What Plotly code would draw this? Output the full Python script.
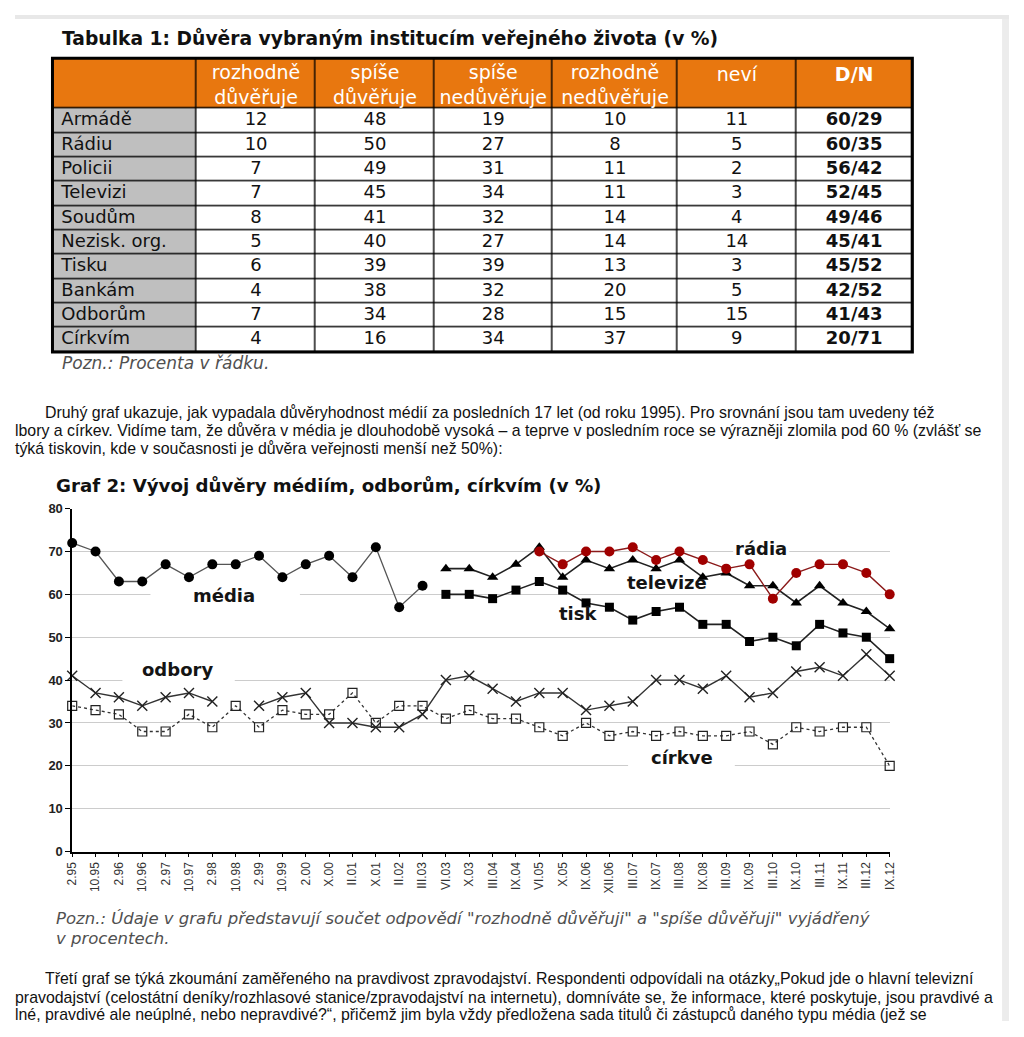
import numpy as np
import plotly.graph_objects as go

# The page keeps the browser's default 8 px body margin, so the figure is
# 16 px smaller than the window and every position below is given in window
# pixels and shifted by that margin.
WIN_W, WIN_H = 1024, 1037
MARGIN = 8
W, H = WIN_W - 2 * MARGIN, WIN_H - 2 * MARGIN

# ---------------- Table data ----------------
row_labels = ["Armádě", "Rádiu", "Policii", "Televizi", "Soudům", "Nezisk. org.",
              "Tisku", "Bankám", "Odborům", "Církvím"]
col_headers = ["rozhodně<br>důvěřuje", "spíše<br>důvěřuje", "spíše<br>nedůvěřuje",
               "rozhodně<br>nedůvěřuje", "neví", "<b>D/N</b>"]
rozhodne_duveruje = [12, 10, 7, 7, 8, 5, 6, 4, 7, 4]
spise_duveruje = [48, 50, 49, 45, 41, 40, 39, 38, 34, 16]
spise_neduveruje = [19, 27, 31, 34, 32, 27, 39, 32, 28, 34]
rozhodne_neduveruje = [10, 8, 11, 11, 14, 14, 13, 20, 15, 37]
nevi = [11, 5, 2, 3, 4, 14, 3, 5, 15, 9]
dn = ["60/29", "60/35", "56/42", "52/45", "49/46", "45/41", "45/52", "42/52", "41/43", "20/71"]

# ---------------- Chart data ----------------
periods = ["2.95", "10.95", "2.96", "10.96", "2.97", "10.97", "2.98", "10.98", "2.99", "10.99",
           "2.00", "X.00", "II.01", "X.01", "II.02", "III.03", "VI.03", "X.03", "III.04", "IX.04",
           "VI.05", "X.05", "IX.06", "XII.06", "III.07", "IX.07", "III.08", "IX.08", "III.09",
           "IX.09", "III.10", "IX.10", "III.11", "IX.11", "III.12", "IX.12"]
N = None
media = [72, 70, 63, 63, 67, 64, 67, 67, 69, 64, 67, 69, 64, 71, 57, 62] + [N] * 20
televize = [N] * 16 + [66, 66, 64, 67, 71, 64, 68, 66, 68, 66, 68, 64, 65, 62, 62, 58, 62, 58, 56, 52]
tisk = [N] * 16 + [60, 60, 59, 61, 63, 61, 58, 57, 54, 56, 57, 53, 53, 49, 50, 48, 53, 51, 50, 45]
radia = [N] * 20 + [70, 67, 70, 70, 71, 68, 70, 68, 66, 67, 59, 65, 67, 67, 65, 60]
odbory = [41, 37, 36, 34, 36, 37, 35, N, 34, 36, 37, 30, 30, 29, 29, 32, 40, 41, 38, 35,
          37, 37, 33, 34, 35, 40, 40, 38, 41, 36, 37, 42, 43, 41, 46, 41]
cirkve = [34, 33, 32, 28, 28, 32, 29, 34, 29, 33, 32, 32, 37, 30, 34, 34, 31, 33, 31, 31,
          29, 27, 30, 27, 28, 27, 28, 27, 27, 28, 25, 29, 28, 29, 29, 20]

ORANGE = "#E8770F"
GRAY = "#BFBFBF"
VERDANA = "DejaVu Sans"
ARIAL = "Liberation Sans"


def px(x):
    return (x - MARGIN) / W


def py(y):
    return 1 - (y - MARGIN) / H


fig = go.Figure()

# ---------------- Table (heatmap cells on its own axes) ----------------
col_widths = [146, 121, 120, 120, 127, 120, 118]
x_edges = np.concatenate([[0], np.cumsum(col_widths)])
x_centers = (x_edges[:-1] + x_edges[1:]) / 2
hdr_units = 51 / 24.7
n_rows = len(row_labels)
y_edges = [-hdr_units] + list(range(0, n_rows + 1))
row_centers = [i + 0.5 for i in range(n_rows)]

# colour codes: 0 white, 1 gray, 2 orange
z = [[2] * 7] + [[1] + [0] * 6 for _ in range(n_rows)]

fig.add_trace(go.Heatmap(z=[[1]], x=[0, x_edges[-1]], y=[-hdr_units, n_rows],
                         colorscale=[[0, "black"], [1, "black"]], showscale=False,
                         hoverinfo="skip", xaxis="x3", yaxis="y3"))
fig.add_trace(go.Heatmap(z=z, x=x_edges, y=y_edges, zmin=0, zmax=2,
                         colorscale=[[0, "white"], [0.5, GRAY], [1, ORANGE]], showscale=False,
                         xgap=1.4, ygap=1.4, hoverinfo="skip", xaxis="x3", yaxis="y3"))

# row labels
fig.add_trace(go.Scatter(x=[x_edges[0] + 9] * n_rows, y=row_centers, text=row_labels,
                         mode="text", textposition="middle right", showlegend=False, hoverinfo="skip",
                         textfont=dict(family=VERDANA, size=18, color="#111111"),
                         xaxis="x3", yaxis="y3"))
# numeric cells
value_cols = [rozhodne_duveruje, spise_duveruje, spise_neduveruje, rozhodne_neduveruje, nevi,
              ["<b>%s</b>" % d for d in dn]]
cx, cy, ct = [], [], []
for j, col in enumerate(value_cols):
    for i, v in enumerate(col):
        cx.append(x_centers[j + 1])
        cy.append(row_centers[i])
        ct.append(str(v))
fig.add_trace(go.Scatter(x=cx, y=cy, text=ct, mode="text", textposition="middle center",
                         showlegend=False, hoverinfo="skip",
                         textfont=dict(family=VERDANA, size=18, color="#111111"),
                         xaxis="x3", yaxis="y3"))
# header texts (two-line ones centred in the row, single-line ones on the first line)
hy = [(-0.888 if "<br>" in h else -1.33) for h in col_headers]
fig.add_trace(go.Scatter(x=list(x_centers[1:]), y=hy, text=col_headers, mode="text",
                         textposition="middle center", showlegend=False, hoverinfo="skip",
                         textfont=dict(family=VERDANA, size=19, color="white"),
                         xaxis="x3", yaxis="y3"))

# ---------------- Line chart ----------------
line_common = dict(mode="lines+markers", cliponaxis=False, showlegend=False, hoverinfo="skip")
fig.add_trace(go.Scatter(x=periods, y=cirkve, line=dict(color="#333333", width=1.3, dash="3px,3px"),
                         marker=dict(symbol="square-open", size=9, color="#222222", line=dict(width=1.2)),
                         **line_common))
fig.add_trace(go.Scatter(x=periods, y=odbory, line=dict(color="#333333", width=1.4),
                         marker=dict(symbol="x-thin", size=10, color="#222222",
                                     line=dict(width=1.4, color="#222222")),
                         **line_common))
fig.add_trace(go.Scatter(x=periods, y=media, line=dict(color="#555555", width=1.3),
                         marker=dict(symbol="circle", size=10, color="black"), **line_common))
fig.add_trace(go.Scatter(x=periods, y=tisk, line=dict(color="#222222", width=1.6),
                         marker=dict(symbol="square", size=9, color="black"), **line_common))
fig.add_trace(go.Scatter(x=periods, y=televize, line=dict(color="#222222", width=1.6),
                         marker=dict(symbol="triangle-up", size=10, color="black"), **line_common))
fig.add_trace(go.Scatter(x=periods, y=radia, line=dict(color="#8B1A1A", width=1.4),
                         marker=dict(symbol="circle", size=10, color="#A00000"), **line_common))

# label white backgrounds (gaps in gridlines)
for (x0, x1, y0, y1) in [(3.35, 9.75, 58.8, 61.2), (2.15, 6.96, 38.8, 41.2),
                         (23.8, 28.37, 18.8, 21.2), (28.3, 30.7, 68.8, 71.2)]:
    fig.add_shape(type="rect", xref="x", yref="y", x0=x0, x1=x1, y0=y0, y1=y1,
                  fillcolor="white", line=dict(width=0), layer="between")

series_labels = [("média", 6.5, 59.8), ("odbory", 4.52, 42.5), ("tisk", 21.66, 55.6),
                 ("televize", 25.46, 62.7), ("rádia", 29.47, 70.8), ("církve", 26.09, 22.0)]
for txt, lx, ly in series_labels:
    fig.add_annotation(x=lx, y=ly, xref="x", yref="y", text="<b>%s</b>" % txt, showarrow=False,
                       font=dict(family=VERDANA, size=18, color="#141414"))


# ---------------- Texts ----------------
def text(x, y, s, size, family=ARIAL, color="#111111", bold=False, italic=False):
    if bold:
        s = "<b>%s</b>" % s
    if italic:
        s = "<i>%s</i>" % s
    fig.add_annotation(x=px(x), y=py(y), xref="paper", yref="paper", text=s, showarrow=False,
                       xanchor="left", yanchor="middle", borderpad=0,
                       font=dict(family=family, size=size, color=color))


PS = 15.9
text(55, 31, "Tabulka 1: Důvěra vybraným institucím veřejného života (v %)", 18.7, VERDANA, "#111111", bold=True)
text(55, 361, "Pozn.: Procenta v řádku.", 17, VERDANA, "#505050", italic=True)

text(37, 411, "Druhý graf ukazuje, jak vypadala důvěryhodnost médií za posledních 17 let (od roku 1995). Pro srovnání jsou tam uvedeny též", PS)
text(7, 430, "lbory a církev. Vidíme tam, že důvěra v média je dlouhodobě vysoká – a teprve v posledním roce se výrazněji zlomila pod 60 % (zvlášť se", PS)
text(7, 448, "týká tiskovin, kde v současnosti je důvěra veřejnosti menší než 50%):", PS)

text(49, 486, "Graf 2: Vývoj důvěry médiím, odborům, církvím (v %)", 18.2, VERDANA, "#111111", bold=True)

text(49, 925, "Pozn.: Údaje v grafu představují součet odpovědí \"rozhodně důvěřuji\" a \"spíše důvěřuji\" vyjádřený", 16.5, VERDANA, "#505050", italic=True)
text(49, 945, "v procentech.", 16.5, VERDANA, "#505050", italic=True)

text(37, 986, "Třetí graf se týká zkoumání zaměřeného na pravdivost zpravodajství. Respondenti odpovídali na otázky„Pokud jde o hlavní televizní", PS)
text(7, 1005, "pravodajství (celostátní deníky/rozhlasové stanice/zpravodajství na internetu), domníváte se, že informace, které poskytuje, jsou pravdivé a", PS)
text(7, 1022, "lné, pravdivé ale neúplné, nebo nepravdivé?“, přičemž jim byla vždy předložena sada titulů či zástupců daného typu média (jež se", PS)

# table outer border
fig.add_shape(type="rect", xref="paper", yref="paper", x0=px(46), x1=px(918), y0=py(350), y1=py(52),
              line=dict(color="black", width=3))

# window chrome
fig.add_shape(type="rect", xref="paper", yref="paper", x0=0, x1=1, y0=py(12), y1=1,
              fillcolor="#E8E8E8", line=dict(width=0))
fig.add_shape(type="rect", xref="paper", yref="paper", x0=px(1009), x1=1, y0=0, y1=py(12),
              fillcolor="#ECECEC", line=dict(width=0))

hidden = dict(visible=False, fixedrange=True)
fig.update_layout(
    width=W, height=H, margin=dict(l=0, r=0, t=0, b=0),
    paper_bgcolor="white", plot_bgcolor="white",
    xaxis=dict(domain=[px(66), px(895)], type="category", range=[0, 35],
               showline=True, linecolor="black", linewidth=1.5, mirror=False,
               ticks="outside", ticklen=4, tickcolor="black", tickwidth=1,
               tickangle=-90, tickfont=dict(family=ARIAL, size=12, color="#333333"),
               showgrid=False, zeroline=False, fixedrange=True),
    xaxis2=dict(domain=[px(66), px(895)], overlaying="x", anchor="y", range=[0, 35],
                tickmode="linear", tick0=0, dtick=1, ticks="inside", ticklen=4,
                tickcolor="black", showticklabels=False, showgrid=False, zeroline=False,
                showline=False, side="bottom", fixedrange=True),
    yaxis=dict(domain=[py(857), py(509)], range=[0, 80], dtick=10,
               showline=True, linecolor="black", linewidth=1.5,
               ticks="outside", ticklen=5, tickcolor="black",
               tickfont=dict(family=ARIAL, size=13, color="#222222", weight="bold"),
               showgrid=True, gridcolor="#CCCCCC", gridwidth=1, zeroline=False, fixedrange=True),
    xaxis3=dict(domain=[px(46), px(918)], range=[0, float(x_edges[-1])], anchor="y3", **hidden),
    yaxis3=dict(domain=[py(350), py(52)], range=[n_rows, -hdr_units], anchor="x3", **hidden),
)

fig.write_html("out.html", config={"displayModeBar": False})
